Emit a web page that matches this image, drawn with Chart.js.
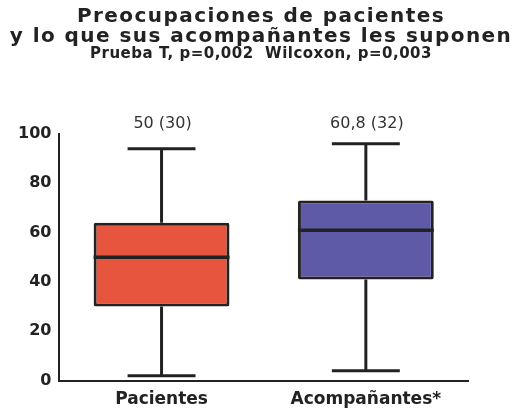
<!DOCTYPE html>
<html>
<head>
<meta charset="utf-8">
<script src="https://cdn.jsdelivr.net/npm/chart.js@4/dist/chart.umd.min.js"></script>
<style>
  html, body { margin: 0; padding: 0; background: #fff; }
  #wrap { width: 522px; height: 414px; }
</style>
</head>
<body>
<div id="wrap"><canvas id="chart"></canvas></div>
<script>
// --- Data ---
const categories = ['Pacientes', 'Acompañantes*'];
const whiskerLow = [2, 4];
const q1 = [30, 41];
const median = [50, 61];
const q3 = [64, 73];
const whiskerHigh = [94, 96];
const topLabels = ['50 (30)', '60,8 (32)'];
const yTicks = [0, 20, 40, 60, 80, 100];

const TITLE = ['Preocupaciones de pacientes', 'y lo que sus acompañantes les suponen'];
const SUBTITLE = 'Prueba T, p=0,002  Wilcoxon, p=0,003';

const boxColors = ['#e8553f', '#5f5aa8'];
const ink = '#222222';
const FONT = "'DejaVu Sans', Verdana, sans-serif";

// the original lettering is wide: spread the title and subtitle glyphs a bit,
// and let them use the full canvas width (otherwise maxWidth squeezes them)
const wideTitles = {
    id: 'wideTitles',
    afterLayout(chart) {
        chart.boxes.forEach(box => {
            if (box._wide || !box.options) return;
            let spacing = null;
            if (box.options.text === TITLE) spacing = '1.45px';
            if (box.options.text === SUBTITLE) spacing = '0.5px';
            if (!spacing) return;
            const draw = box.draw.bind(box);
            box.draw = function (area) {
                const left = box.left, right = box.right;
                box.left = 0;
                box.right = chart.width;
                chart.ctx.save();
                chart.ctx.letterSpacing = spacing;
                draw(area);
                chart.ctx.restore();
                box.left = left;
                box.right = right;
            };
            box._wide = true;
        });
    }
};

// whiskers, median lines and the labels above each box
const boxExtras = {
    id: 'boxExtras',
    afterDatasetsDraw(chart) {
        const ctx = chart.ctx;
        const y = chart.scales.y;
        const meta = chart.getDatasetMeta(0);
        ctx.save();
        ctx.strokeStyle = ink;
        ctx.lineCap = 'butt';
        meta.data.forEach((bar, i) => {
            const cx = bar.x;
            const half = bar.width / 2;
            const capHalf = bar.width * 0.25;
            ctx.lineWidth = 3;
            // upper whisker
            ctx.beginPath();
            ctx.moveTo(cx, y.getPixelForValue(q3[i]));
            ctx.lineTo(cx, y.getPixelForValue(whiskerHigh[i]));
            ctx.moveTo(cx - capHalf, y.getPixelForValue(whiskerHigh[i]));
            ctx.lineTo(cx + capHalf, y.getPixelForValue(whiskerHigh[i]));
            // lower whisker
            ctx.moveTo(cx, y.getPixelForValue(q1[i]));
            ctx.lineTo(cx, y.getPixelForValue(whiskerLow[i]));
            ctx.moveTo(cx - capHalf, y.getPixelForValue(whiskerLow[i]));
            ctx.lineTo(cx + capHalf, y.getPixelForValue(whiskerLow[i]));
            ctx.stroke();
            // median
            ctx.lineWidth = 3.5;
            ctx.beginPath();
            ctx.moveTo(cx - half, y.getPixelForValue(median[i]));
            ctx.lineTo(cx + half, y.getPixelForValue(median[i]));
            ctx.stroke();
            // label above
            ctx.fillStyle = '#333';
            ctx.font = '16px ' + FONT;
            ctx.textAlign = 'center';
            ctx.textBaseline = 'middle';
            ctx.fillText(topLabels[i], cx + 1, chart.chartArea.top - 10);
        });
        ctx.restore();
    }
};

const ctx = document.getElementById('chart').getContext('2d');
new Chart(ctx, {
    type: 'bar',
    data: {
        labels: categories,
        datasets: [{
            data: categories.map((c, i) => [q1[i], q3[i]]),
            backgroundColor: boxColors,
            borderColor: ink,
            borderWidth: 3,
            borderSkipped: false,
            borderRadius: 2,
            barPercentage: 0.665,
            categoryPercentage: 1
        }]
    },
    options: {
        responsive: true,
        maintainAspectRatio: false,
        animation: false,
        layout: { padding: { left: 16, right: 54, top: 4, bottom: 1 } },
        plugins: {
            legend: { display: false },
            tooltip: { enabled: false },
            title: {
                display: true,
                text: TITLE,
                color: ink,
                font: { family: FONT, size: 20, weight: 'bold', lineHeight: 1.0 },
                padding: { top: 3, bottom: 0 }
            },
            subtitle: {
                display: true,
                text: SUBTITLE,
                color: ink,
                font: { family: FONT, size: 15, weight: 'bold', lineHeight: 1.0 },
                padding: { top: 0, bottom: 72 }
            }
        },
        scales: {
            x: {
                grid: { display: false, drawTicks: true, tickLength: 6, tickColor: ink, tickWidth: 2 },
                border: { color: ink, width: 2 },
                ticks: {
                    color: ink,
                    font: { family: FONT, size: 17, weight: 'bold' },
                    padding: 3
                }
            },
            y: {
                min: 0,
                max: 100,
                afterBuildTicks: axis => { axis.ticks = yTicks.map(v => ({ value: v })); },
                grid: { display: false, drawOnChartArea: false, drawTicks: true, tickLength: 6, tickColor: ink, tickWidth: 2 },
                border: { color: ink, width: 2 },
                ticks: {
                    color: ink,
                    font: { family: FONT, size: 16, weight: 'bold' },
                    padding: 2
                }
            }
        }
    },
    plugins: [wideTitles, boxExtras]
});
</script>
</body>
</html>
